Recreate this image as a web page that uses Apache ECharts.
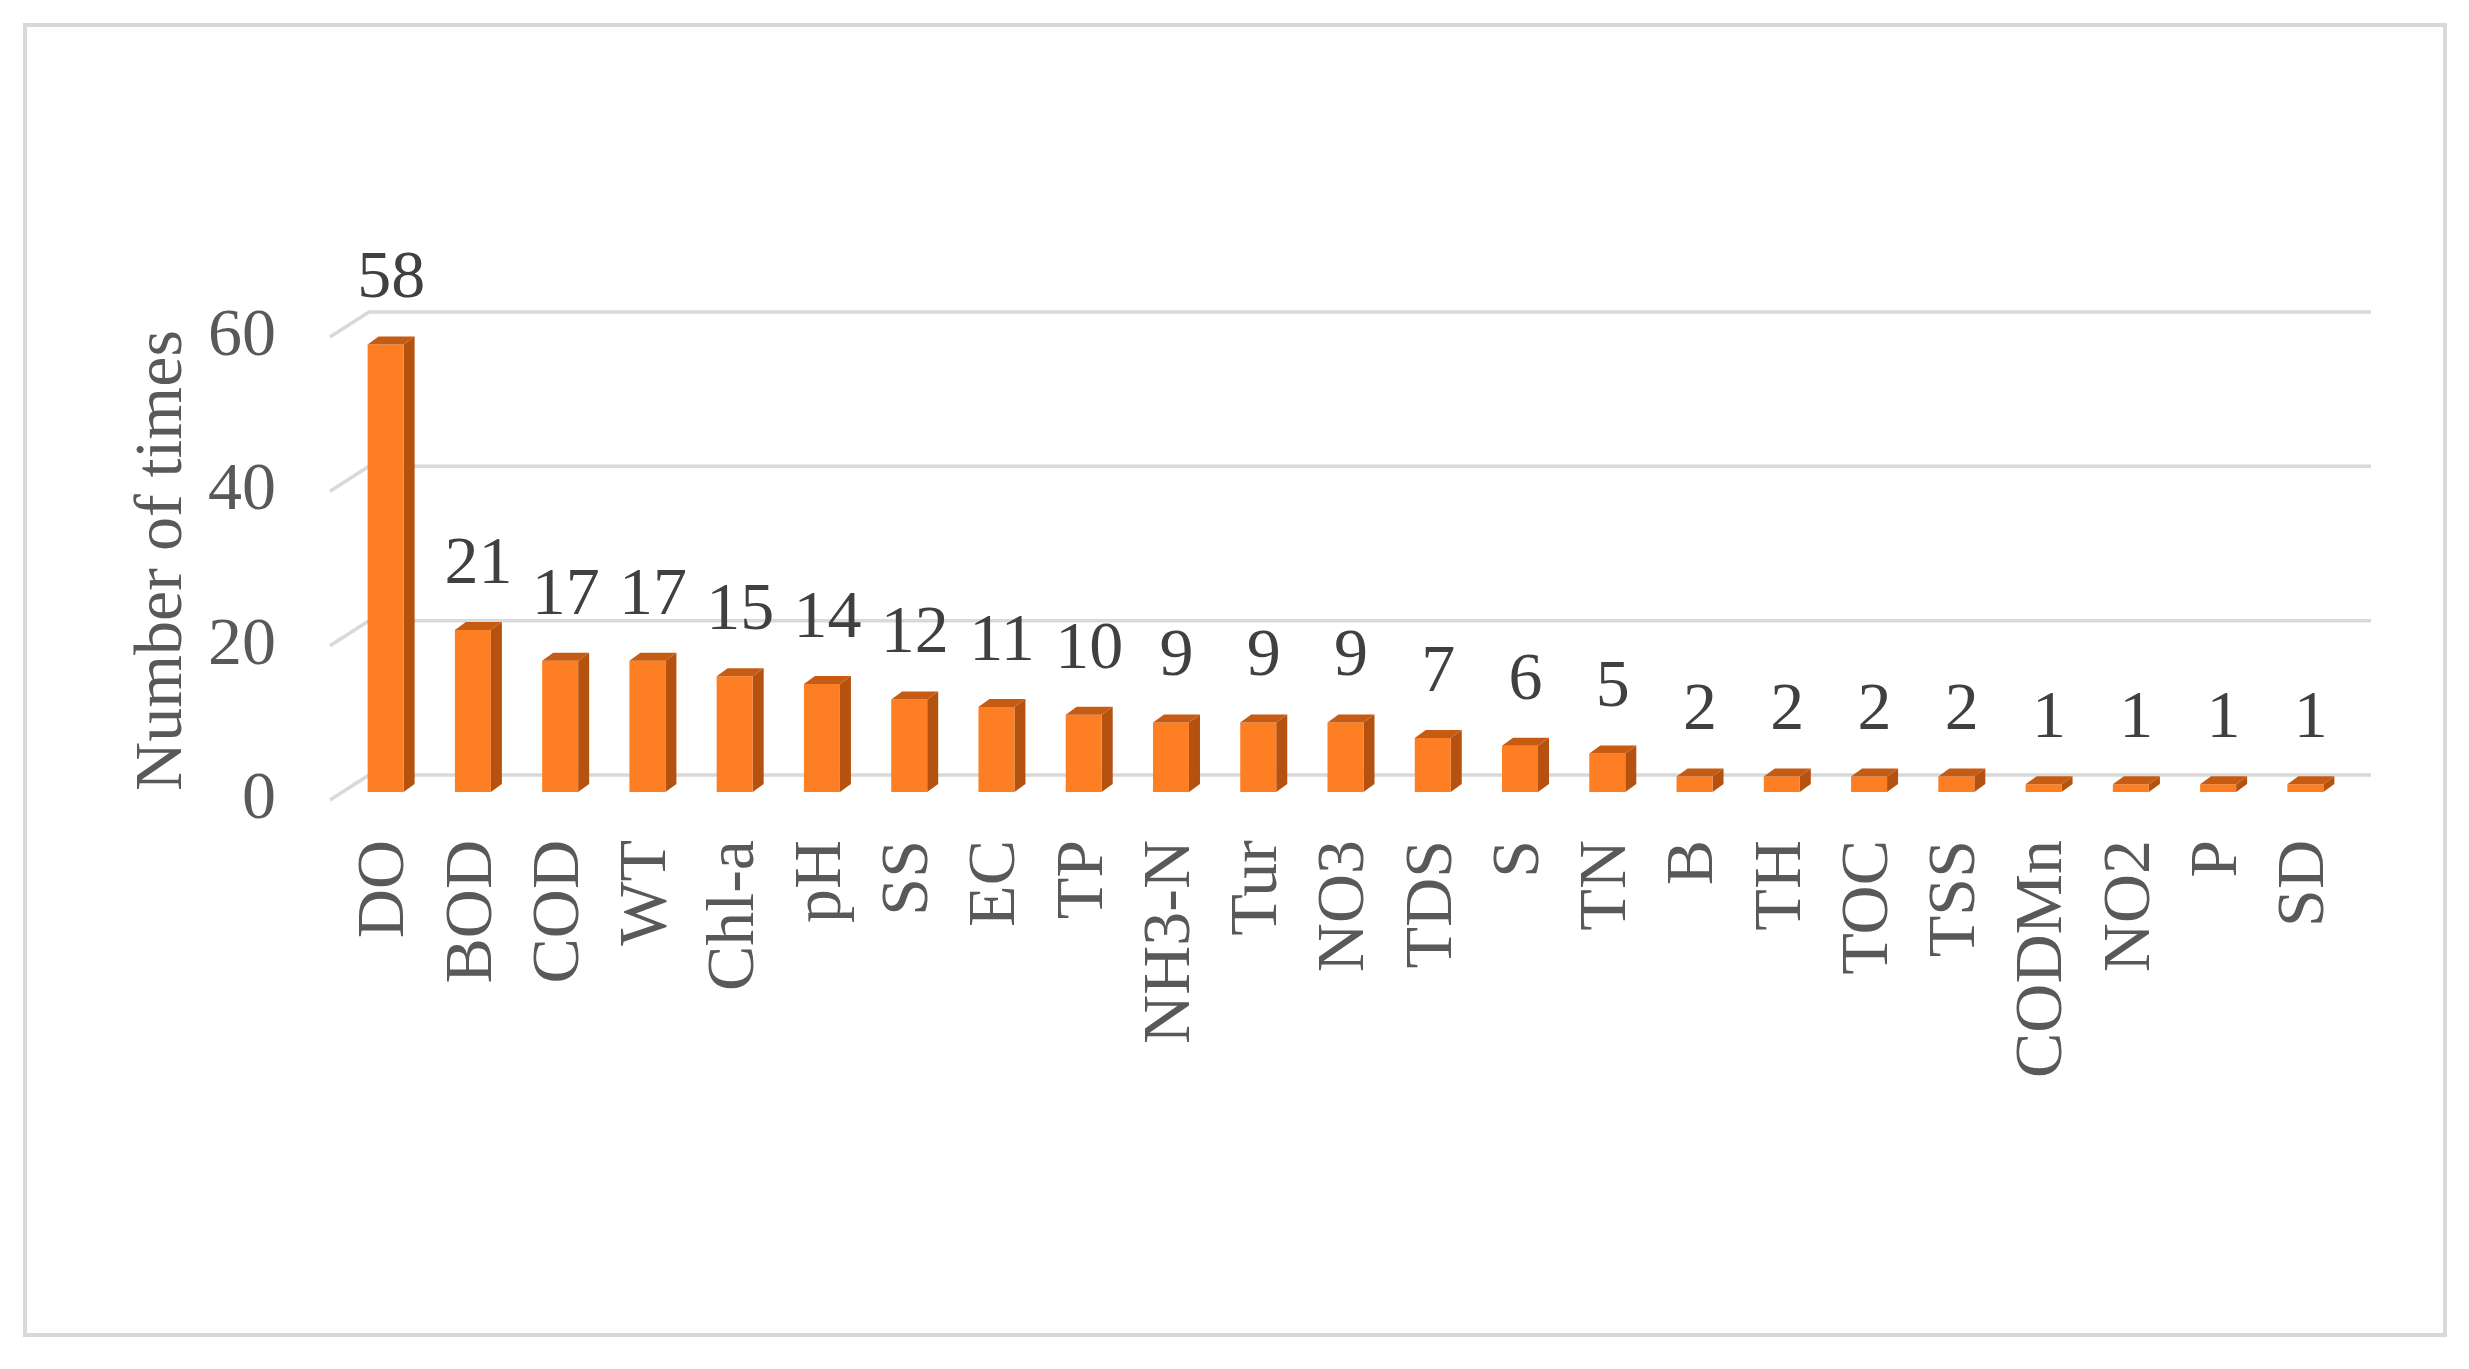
<!DOCTYPE html>
<html>
<head>
<meta charset="utf-8">
<style>
html, body { margin: 0; padding: 0; background: #fff; }
#chart { width: 2469px; height: 1369px; }
</style>
<script src="https://cdn.jsdelivr.net/npm/echarts@6/dist/echarts.min.js"></script>
</head>
<body>
<div id="chart"></div>
<script>
var categories = ['DO', 'BOD', 'COD', 'WT', 'Chl-a', 'pH', 'SS', 'EC', 'TP', 'NH3-N', 'Tur', 'NO3',
    'TDS', 'S', 'TN', 'B', 'TH', 'TOC', 'TSS', 'CODMn', 'NO2', 'P', 'SD'];
var counts = [58, 21, 17, 17, 15, 14, 12, 11, 10, 9, 9, 9, 7, 6, 5, 2, 2, 2, 2, 1, 1, 1, 1];
var yTicks = [0, 20, 40, 60];

var FONT = '"Liberation Serif", "Times New Roman", serif';
var myChart = echarts.init(document.getElementById('chart'));

// 3d-ish column: front face, right side, top
function renderBar(params, api) {
    var i = api.value(0), v = api.value(1);
    var top = api.coord([i, v]);
    var base = api.coord([i, 0]);
    var cx = top[0], yT = top[1], yB = base[1];
    var hw = 18, dx = 11, dy = 8;
    return {
        type: 'group',
        children: [
            { type: 'polygon', shape: { points: [[cx + hw, yT], [cx + hw + dx, yT - dy], [cx + hw + dx, yB - dy], [cx + hw, yB]] },
              style: { fill: '#b5520f' } },
            { type: 'rect', shape: { x: cx - hw, y: yT, width: hw * 2, height: yB - yT },
              style: { fill: '#fd7e23' } },
            { type: 'polygon', shape: { points: [[cx - hw, yT], [cx - hw + dx, yT - dy], [cx + hw + dx, yT - dy], [cx + hw, yT]] },
              style: { fill: '#c65b13' } },
            { type: 'text', x: cx + dx / 2, y: yT - dy - 23,
              style: { text: String(v), fontSize: 68, fontFamily: FONT, fill: '#404040', align: 'center', verticalAlign: 'bottom' } }
        ]
    };
}

// gridlines on the back wall with the slanted floor piece on the left
function renderGrid(params, api) {
    var y = api.coord([0, api.value(1)])[1];
    var cs = params.coordSys;
    var x0 = cs.x, x1 = cs.x + cs.width;
    return {
        type: 'polyline',
        shape: { points: [[x0 - 12, y + 8], [x0 + 27, y - 17], [x1 + 22, y - 17]] },
        style: { stroke: '#d9d9d9', lineWidth: 3.5, fill: null }
    };
}

myChart.setOption({
    animation: false,
    backgroundColor: '#fff',
    graphic: [{
        type: 'rect',
        shape: { x: 25, y: 25, width: 2420, height: 1310 },
        style: { fill: null, stroke: '#d9d9d9', lineWidth: 4 }
    }],
    grid: { left: 342, right: 120, top: 329, bottom: 577 },
    xAxis: {
        type: 'category',
        data: categories,
        axisLine: { show: false },
        axisTick: { show: false },
        axisLabel: {
            interval: 0,
            rotate: 90,
            margin: 48,
            fontSize: 68,
            fontFamily: FONT,
            color: '#595959'
        }
    },
    yAxis: {
        type: 'value',
        min: 0,
        max: 60,
        interval: 20,
        name: 'Number of times',
        nameLocation: 'middle',
        nameGap: 145,
        nameTextStyle: { fontSize: 68, fontFamily: FONT, color: '#595959' },
        axisLine: { show: false },
        axisTick: { show: false },
        splitLine: { show: false },
        axisLabel: {
            margin: 66,
            verticalAlign: 'top',
            lineHeight: 16,
            fontSize: 68,
            fontFamily: FONT,
            color: '#595959'
        }
    },
    series: [{
        type: 'custom',
        name: 'grid',
        z: 1,
        silent: true,
        renderItem: renderGrid,
        data: yTicks.map(function (t) { return [0, t]; })
    }, {
        type: 'custom',
        name: 'Number of times',
        z: 2,
        renderItem: renderBar,
        encode: { x: 0, y: 1 },
        data: counts.map(function (c, i) { return [i, c]; })
    }]
});
</script>
</body>
</html>
